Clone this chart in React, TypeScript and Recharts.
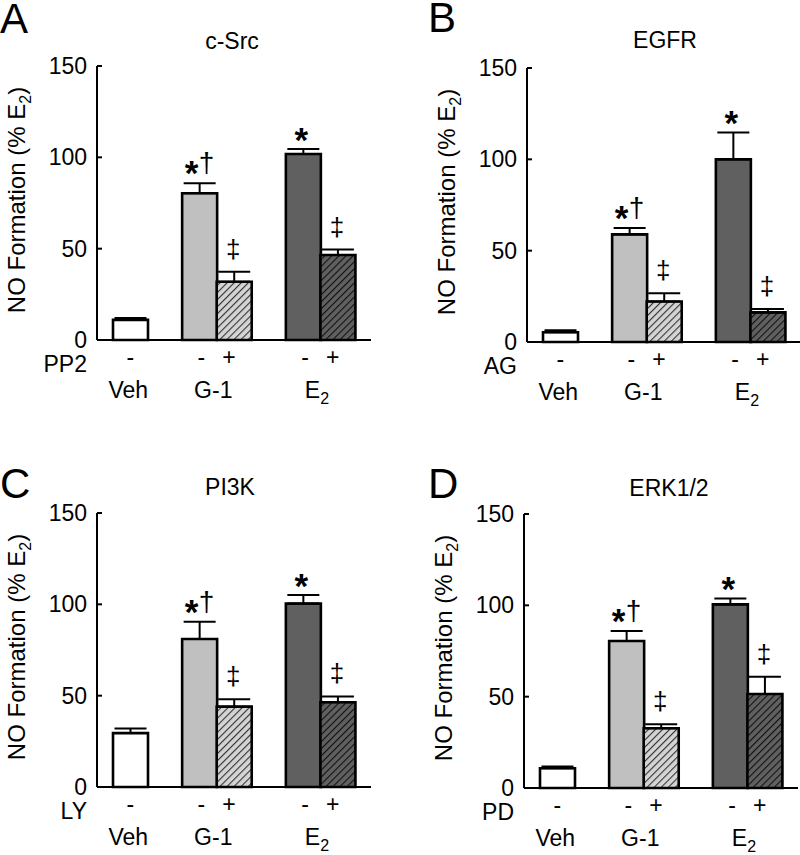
import React from 'react';
import { BarChart, Bar, XAxis, YAxis, Cell, ErrorBar, LabelList } from 'recharts';

// slot layout shared by all four panels (gaps separate the groups)
const slots = ['Veh', 'gap-1', 'G-1 -', 'G-1 +', 'gap-2', 'E2 -', 'E2 +'];
const signLabels = ['-', '', '-', '+', '', '-', '+'];
const groupLabels = ['Veh', '', 'G-1', '', '', 'E2', ''];
const marks = ['', '', '*†', '‡', '', '*', '‡'];

// NO formation (% E2), mean and upper SEM
const srcMean = [11, null, 80.3, 31.9, null, 101.8, 46.5];
const srcErr = [1, null, 5.5, 5.5, null, 2.7, 3];
const egfrMean = [5.3, null, 58.9, 22.2, null, 100, 16.2];
const egfrErr = [1.2, null, 3.5, 4.5, null, 14.7, 1.8];
const pi3kMean = [29.5, null, 81, 44, null, 100.4, 46.4];
const pi3kErr = [2.5, null, 9.5, 4, null, 4.7, 3.2];
const erkMean = [10.8, null, 80.5, 32.7, null, 100.5, 51.5];
const erkErr = [1, null, 5.4, 2.2, null, 3.3, 9.4];

const titles = ['c-Src', 'EGFR', 'PI3K', 'ERK1/2'];
const letters = ['A', 'B', 'C', 'D'];
const inhibitors = ['PP2', 'AG', 'LY', 'PD'];
const yTicks = [0, 50, 100, 150];

const FONT = '"Liberation Sans", Arial, Helvetica, sans-serif';
const slotFill = ['#ffffff', 'none', '#c0c0c0', 'url(#hatchLight)', 'none', '#606060', 'url(#hatchDark)'];

const CHART_W = 380;
const CHART_H = 420;
const MARGIN = { top: 66, right: 9, bottom: 20, left: 37 };

const panels = [
  { left: 0, top: 0, means: srcMean, errs: srcErr, titleX: 232, titleY: 49, letterX: 0, letterY: 33 },
  { left: 430, top: 2, means: egfrMean, errs: egfrErr, titleX: 665, titleY: 48, letterX: 428, letterY: 32 },
  { left: 0, top: 447, means: pi3kMean, errs: pi3kErr, titleX: 230, titleY: 495, letterX: 0, letterY: 498 },
  { left: 427, top: 448, means: erkMean, errs: erkErr, titleX: 669, titleY: 496, letterX: 428, letterY: 498 },
];

const buildRows = (means: (number | null)[], errs: (number | null)[]) =>
  slots.map((slot, i) => ({
    slot,
    mean: means[i],
    err: errs[i] == null ? null : [0, errs[i]],
  }));

const SlotTick = (props: any) => {
  const { x, y, payload } = props;
  const i = slots.indexOf(payload.value);
  const half = payload.offset || 17;
  const sign = signLabels[i];
  const group = groupLabels[i];
  const gx = i === 0 ? x - 2 : x + half * 0.8;
  return (
    <g>
      {sign && (
        <text x={sign === '+' ? x - 5 : x + (i === 0 ? 0 : 2)} y={y + 25} textAnchor="middle" fontSize={23} fill="#000">
          {sign}
        </text>
      )}
      {group && (
        <text x={gx} y={y + 58} textAnchor="middle" fontSize={23} fill="#000">
          {group === 'E2' ? (
            <>
              E<tspan fontSize={16} dy={6}>2</tspan>
            </>
          ) : (
            group
          )}
        </text>
      )}
    </g>
  );
};

// significance marks sit above the error-bar cap of each bar
const makeMark = (means: (number | null)[], errs: (number | null)[]) => (props: any) => {
  const { x, y, width, height, value } = props;
  const i = slots.indexOf(value);
  const mark = marks[i];
  if (!mark || means[i] == null) return null;
  const cx = Number(x) + Number(width) / 2;
  const capY = Number(y) - ((errs[i] || 0) * Number(height)) / (means[i] as number);
  if (mark === '*†') {
    return (
      <g>
        <text x={cx - 8} y={capY + 2} textAnchor="middle" fontSize={35} fontWeight="bold" fill="#000">*</text>
        <text x={cx + 7} y={capY - 11} textAnchor="middle" fontSize={28} fill="#000">†</text>
      </g>
    );
  }
  if (mark === '*') {
    return (
      <text x={cx - 2} y={capY + 3} textAnchor="middle" fontSize={35} fontWeight="bold" fill="#000">*</text>
    );
  }
  return (
    <text x={cx - 1} y={capY - 14} textAnchor="middle" fontSize={26} fill="#000">{mark}</text>
  );
};

const YLabel = (props: any) => {
  const { x, y, width, height } = props.viewBox;
  const cx = x + width - 72;
  const cy = y + height / 2 - 3;
  return (
    <text x={cx} y={cy} transform={`rotate(-90 ${cx} ${cy})`} textAnchor="middle" fontSize={24} fill="#000">
      NO Formation (% E<tspan fontSize={16} dy={6}>2</tspan>
      <tspan dy={-6}>)</tspan>
    </text>
  );
};

const makeXLabel = (name: string) => (props: any) => {
  const { x, y } = props.viewBox;
  return (
    <text x={x - 10} y={y + 32} textAnchor="end" fontSize={23} fill="#000">{name}</text>
  );
};

const Panel = ({ idx }: { idx: number }) => {
  const p = panels[idx];
  const rows = buildRows(p.means, p.errs);
  return (
    <div style={{ position: 'absolute', left: p.left, top: p.top }}>
      <BarChart width={CHART_W} height={CHART_H} data={rows} margin={MARGIN} barCategoryGap={0}>
        <XAxis
          dataKey="slot"
          interval={0}
          padding={{ left: 16, right: 16 }}
          axisLine={{ stroke: '#000', strokeWidth: 2 }}
          tickLine={false}
          tickSize={0}
          tickMargin={0}
          height={60}
          tick={<SlotTick />}
          label={{ content: makeXLabel(inhibitors[idx]) }}
        />
        <YAxis
          domain={[0, 150]}
          ticks={yTicks}
          width={60}
          axisLine={{ stroke: '#000', strokeWidth: 2 }}
          tickLine={{ stroke: '#000', strokeWidth: 2 }}
          tickSize={-5}
          tickMargin={15}
          tick={{ fill: '#000', fontSize: 23 }}
          label={{ content: YLabel }}
        />
        <Bar dataKey="mean" stroke="#000" strokeWidth={2.6} isAnimationActive={false}>
          {rows.map((r, i) => (
            <Cell key={r.slot} fill={slotFill[i]} />
          ))}
          <ErrorBar dataKey="err" width={16} stroke="#000" strokeWidth={2} direction="y" />
          <LabelList dataKey="slot" content={makeMark(p.means, p.errs)} />
        </Bar>
      </BarChart>
    </div>
  );
};

export default function App() {
  return (
    <div
      style={{
        position: 'absolute',
        left: 0,
        top: 0,
        width: 800,
        height: 855,
        overflow: 'hidden',
        background: '#fff',
        fontFamily: FONT,
      }}
    >
      <svg width={0} height={0} style={{ position: 'absolute' }}>
        <defs>
          <pattern id="hatchLight" patternUnits="userSpaceOnUse" width={5} height={5} patternTransform="rotate(45)">
            <rect width={5} height={5} fill="#d4d4d4" />
            <line x1={0} y1={0} x2={0} y2={5} stroke="#333" strokeWidth={2.2} />
          </pattern>
          <pattern id="hatchDark" patternUnits="userSpaceOnUse" width={5} height={5} patternTransform="rotate(45)">
            <rect width={5} height={5} fill="#606060" />
            <line x1={0} y1={0} x2={0} y2={5} stroke="#111" strokeWidth={2.2} />
          </pattern>
        </defs>
      </svg>
      {panels.map((_, i) => (
        <Panel key={i} idx={i} />
      ))}
      <svg width={800} height={855} style={{ position: 'absolute', left: 0, top: 0, pointerEvents: 'none' }}>
        {panels.map((p, i) => (
          <g key={i}>
            <text x={p.letterX} y={p.letterY} fontSize={42} fill="#000">{letters[i]}</text>
            <text x={p.titleX} y={p.titleY} fontSize={23} textAnchor="middle" fill="#000">{titles[i]}</text>
          </g>
        ))}
      </svg>
    </div>
  );
}
